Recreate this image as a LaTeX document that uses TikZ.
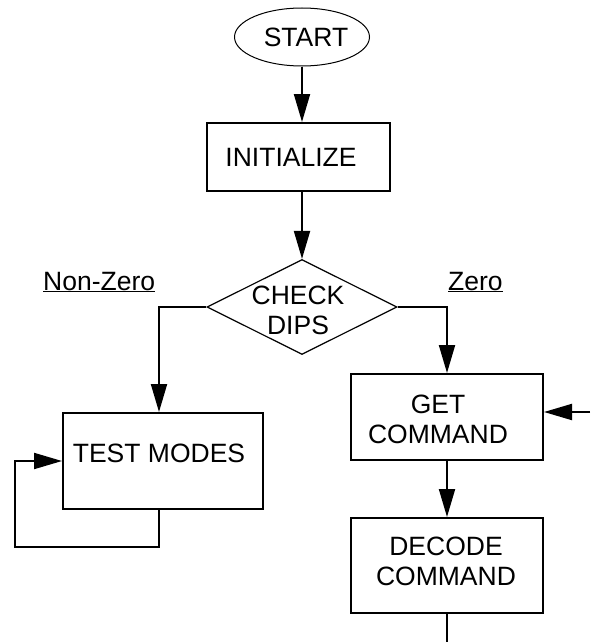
\documentclass[tikz,border=0pt]{standalone}
\usepackage{fontspec}
\setmainfont{Liberation Sans}
\usetikzlibrary{shapes.geometric,arrows.meta}
\begin{document}
\begin{tikzpicture}[x=1pt,y=-1pt,
  every node/.style={font=\fontsize{26.5}{30}\selectfont},
  box/.style={draw, line width=2pt, inner sep=0pt},
  txt/.style={inner sep=0pt, align=center},
  conn/.style={line width=2pt},
  arr/.style={line width=2pt, -{Triangle[length=28pt,width=16pt]}}]
\useasboundingbox (0,0) rectangle (590,642);
% nodes
\node[draw, ellipse, line width=1pt, minimum width=135pt, minimum height=58pt, inner sep=0pt] (start) at (302,37) {};
\node[txt] (starttxt) at (306,37) {START};
\node[box, minimum width=183pt, minimum height=68pt] (init) at (298.5,157) {};
\node[txt] (inittxt) at (291,157) {INITIALIZE};
\node[draw, diamond, line width=1.2pt, minimum width=190pt, minimum height=95pt, inner sep=0pt] (dia) at (302,307) {};
\node[txt] (diatxt) at (298,310) {CHECK\\DIPS};
\node[box, minimum width=200pt, minimum height=96pt] (test) at (163,461) {};
\node[txt] (testtxt) at (159,453) {TEST MODES};
\node[box, minimum width=192pt, minimum height=86pt] (get) at (447,417) {};
\node[txt] (gettxt) at (438,419) {GET\\COMMAND};
\node[box, minimum width=192pt, minimum height=95pt] (dec) at (447,565.5) {};
\node[txt] (dectxt) at (446,561) {DECODE\\COMMAND};
\node[txt, anchor=base west] (nz) at (43,290) {\underline{Non-Zero}};
\node[txt, anchor=base west] (zr) at (448,290) {\underline{Zero}};
% free ends
\coordinate (inR) at (590,412);
\coordinate (bot) at (447,642);
\coordinate (lp) at (15,547);
% connectors
\draw[arr] (start.south) -- (start.south |- init.north);
\draw[arr] (dia.north |- init.south) -- (dia.north);
\draw[arr] (dia.west) -| ([xshift=-4pt]test.north);
\draw[arr] (dia.east) -| (get.north);
\draw[arr] ([xshift=-4pt]test.south) |- (lp) |- (test.west);
\draw[arr] (inR) -- (get.east |- inR);
\draw[arr] (get.south) -- (dec.north);
\draw[conn] (dec.south) -- (bot);
\end{tikzpicture}
\end{document}
